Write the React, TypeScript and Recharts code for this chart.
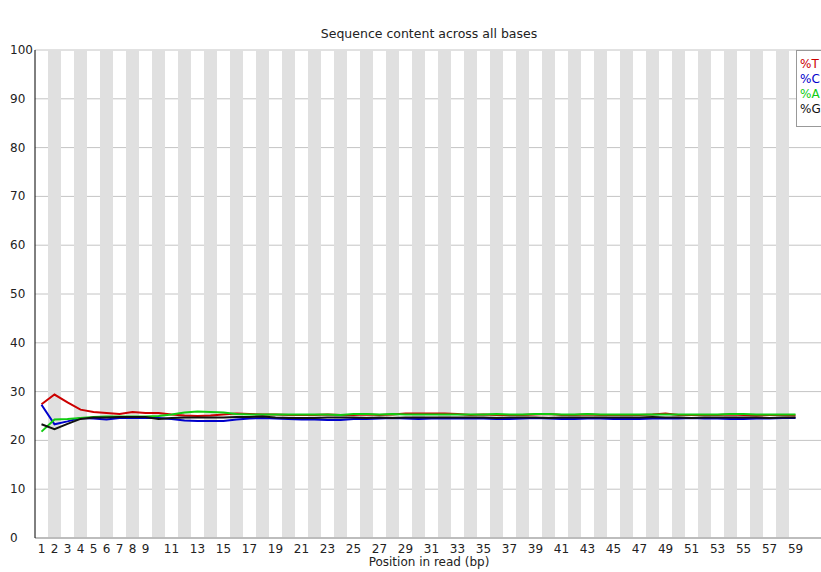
import { LineChart, Line, XAxis, YAxis, CartesianGrid, ReferenceArea } from 'recharts'

const positions = Array.from({ length: 59 }, (_, i) => i + 1)

const pctT = [27.4, 29.4, 27.8, 26.3, 25.8, 25.6, 25.4, 25.8, 25.6, 25.6, 25.3, 25.1, 25.0, 25.1, 25.3, 25.5, 25.4, 25.3, 25.3, 25.2, 25.2, 25.2, 25.3, 25.2, 25.2, 25.3, 25.2, 25.3, 25.5, 25.5, 25.5, 25.5, 25.4, 25.2, 25.3, 25.2, 25.2, 25.2, 25.3, 25.4, 25.2, 25.2, 25.3, 25.2, 25.2, 25.2, 25.2, 25.3, 25.5, 25.2, 25.2, 25.2, 25.2, 25.3, 25.2, 25.1, 25.2, 25.2, 25.1]
const pctC = [27.3, 23.3, 23.9, 24.6, 24.5, 24.3, 24.6, 24.6, 24.6, 24.6, 24.4, 24.1, 24.0, 24.0, 24.0, 24.3, 24.5, 24.6, 24.5, 24.4, 24.3, 24.3, 24.2, 24.2, 24.4, 24.4, 24.5, 24.6, 24.5, 24.4, 24.5, 24.5, 24.5, 24.5, 24.5, 24.4, 24.4, 24.5, 24.6, 24.5, 24.4, 24.4, 24.5, 24.5, 24.4, 24.4, 24.4, 24.5, 24.5, 24.5, 24.6, 24.5, 24.5, 24.4, 24.4, 24.5, 24.5, 24.6, 24.6]
const pctA = [21.8, 24.3, 24.4, 24.6, 24.8, 24.9, 24.9, 24.9, 24.9, 25.0, 25.3, 25.7, 25.9, 25.8, 25.7, 25.4, 25.3, 25.3, 25.3, 25.3, 25.3, 25.3, 25.3, 25.2, 25.4, 25.4, 25.3, 25.4, 25.3, 25.3, 25.3, 25.3, 25.3, 25.3, 25.3, 25.4, 25.3, 25.3, 25.4, 25.4, 25.3, 25.3, 25.4, 25.3, 25.3, 25.3, 25.3, 25.3, 25.3, 25.3, 25.3, 25.3, 25.3, 25.4, 25.4, 25.3, 25.3, 25.3, 25.3]
const pctG = [23.3, 22.3, 23.4, 24.4, 24.7, 24.7, 24.8, 24.8, 24.8, 24.4, 24.6, 24.7, 24.7, 24.7, 24.7, 24.8, 24.8, 24.9, 24.7, 24.6, 24.6, 24.6, 24.7, 24.7, 24.7, 24.6, 24.7, 24.6, 24.7, 24.7, 24.7, 24.7, 24.7, 24.7, 24.7, 24.6, 24.7, 24.7, 24.7, 24.6, 24.7, 24.7, 24.7, 24.7, 24.7, 24.7, 24.7, 24.8, 24.7, 24.7, 24.6, 24.7, 24.7, 24.7, 24.7, 24.7, 24.6, 24.7, 24.7]

const xTicks = [1, 2, 3, 4, 5, 6, 7, 8, 9, 11, 13, 15, 17, 19, 21, 23, 25, 27, 29, 31, 33, 35, 37, 39, 41, 43, 45, 47, 49, 51, 53, 55, 57, 59]
const yTicks = [0, 10, 20, 30, 40, 50, 60, 70, 80, 90, 100]

const series = [
  { key: 'T', label: '%T', color: '#cc0000' },
  { key: 'C', label: '%C', color: '#0000cc' },
  { key: 'A', label: '%A', color: '#11cc11' },
  { key: 'G', label: '%G', color: '#111111' },
]

const FONT = '"DejaVu Sans", Verdana, sans-serif'

export default function App() {
  const data = positions.map((p, i) => ({ pos: p, T: pctT[i], C: pctC[i], A: pctA[i], G: pctG[i] }))
  const stripes = positions.filter(p => p % 2 === 0)

  return (
    <div style={{ position: 'absolute', left: 0, top: 0, width: 821, height: 572, overflow: 'hidden', background: '#fff', fontFamily: FONT }}>
      <div style={{ position: 'absolute', left: 0, width: 858, top: 26, textAlign: 'center', fontSize: 12.5, color: '#222' }}>
        Sequence content across all bases
      </div>
      <LineChart width={821} height={572} data={data} margin={{ top: 50, right: 0, bottom: 0, left: 0 }}>
        {stripes.map(p => (
          <ReferenceArea key={p} x1={p - 0.5} x2={p + 0.5} y1={0} y2={100} fill="#e0e0e0" fillOpacity={1} stroke="none" ifOverflow="hidden" />
        ))}
        <CartesianGrid vertical={false} stroke="#c4c4c4" strokeWidth={1} />
        <XAxis
          dataKey="pos"
          type="number"
          domain={[0.5, 60.96]}
          ticks={xTicks}
          interval={0}
          height={34}
          tickLine={false}
          stroke="#999"
          tick={{ fill: '#222', fontSize: 12, fontFamily: FONT }}
          tickMargin={0}
        />
        <YAxis
          type="number"
          domain={[0, 100]}
          ticks={yTicks}
          width={35}
          tickLine={false}
          stroke="#000"
          tick={({ y, payload }: any) => (
            <text x={10} y={y} dy={4} textAnchor="start" fill="#222" fontSize={12} fontFamily={FONT}>
              {payload.value}
            </text>
          )}
        />
        {series.map(s => (
          <Line key={s.key} dataKey={s.key} stroke={s.color} strokeWidth={2} dot={false} isAnimationActive={false} type="linear" />
        ))}
      </LineChart>
      <div style={{ position: 'absolute', left: 0, width: 858, top: 555, textAlign: 'center', fontSize: 12, color: '#222' }}>
        Position in read (bp)
      </div>
      <div style={{ position: 'absolute', left: 796, top: 50, width: 40, height: 77, border: '1px solid #999', background: '#fff', fontSize: 12, lineHeight: '15px', paddingTop: 6, paddingLeft: 3, boxSizing: 'border-box' }}>
        {series.map(s => (
          <div key={s.key} style={{ color: s.color }}>{s.label}</div>
        ))}
      </div>
    </div>
  )
}
